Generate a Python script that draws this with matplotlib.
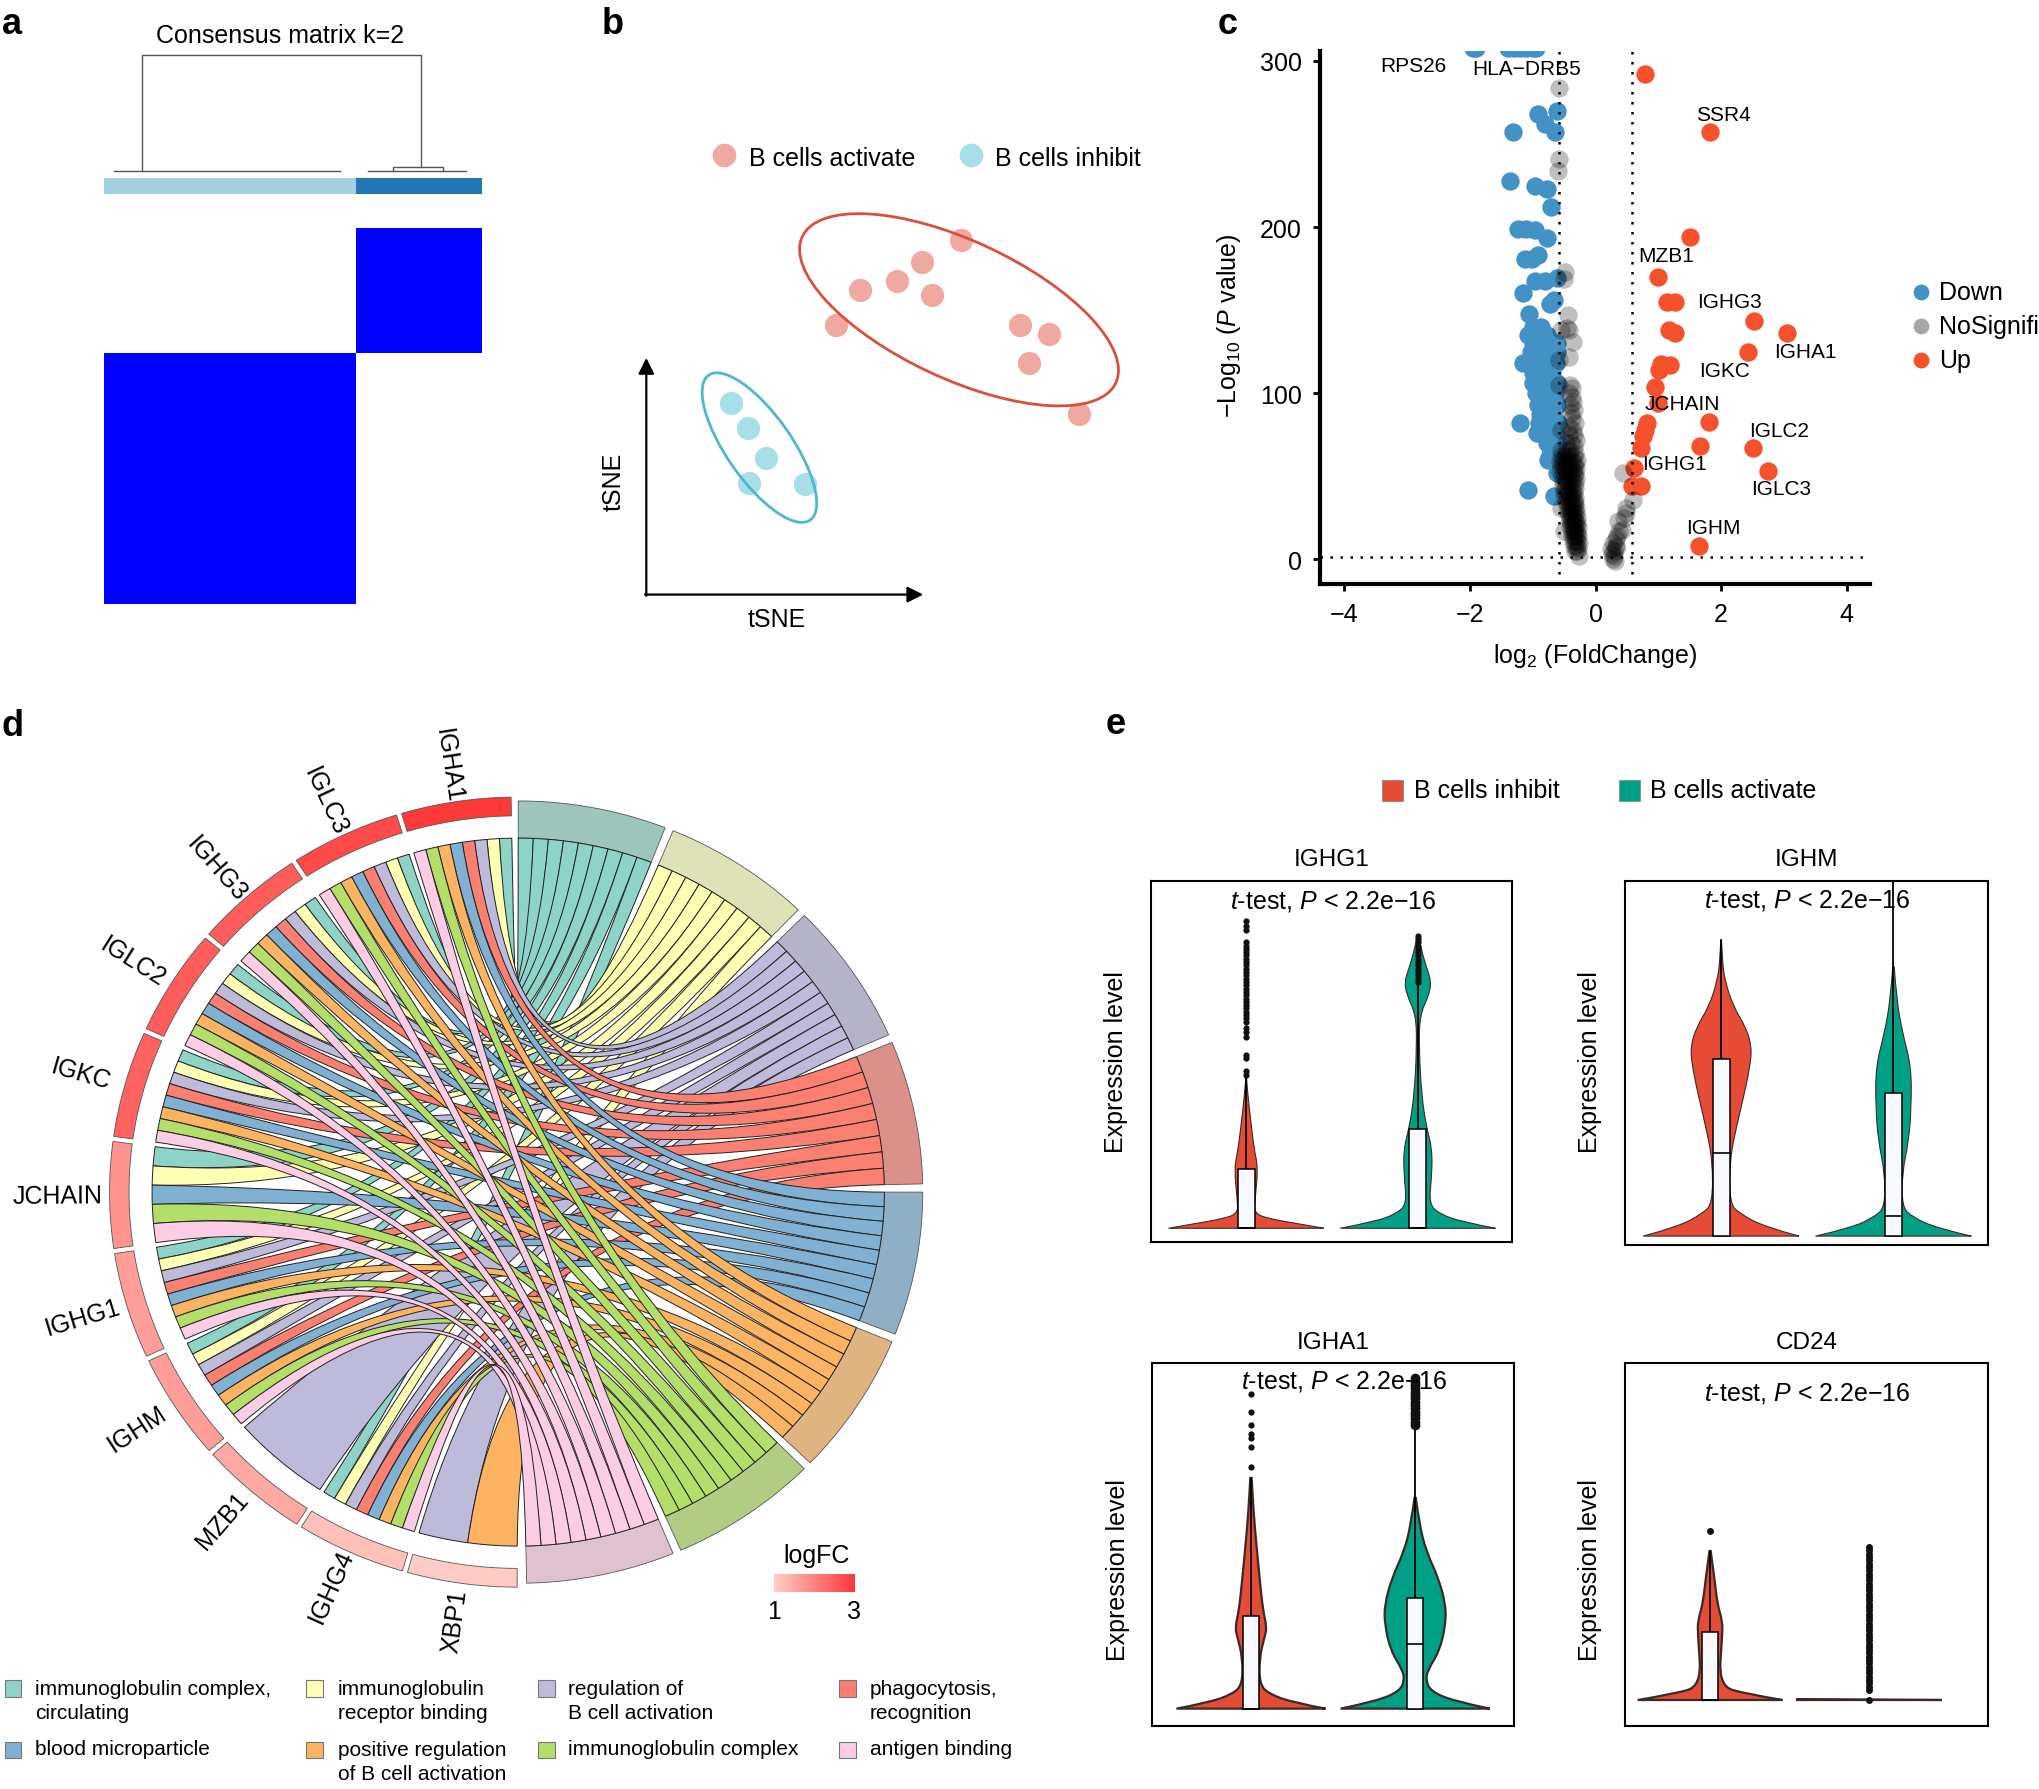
import numpy as np
import matplotlib
matplotlib.use("Agg")
import matplotlib.pyplot as plt
from matplotlib.colors import LinearSegmentedColormap, ListedColormap, Normalize
from matplotlib.patches import Ellipse, PathPatch, Rectangle
from matplotlib.path import Path

plt.rcParams["font.family"] = ["Liberation Sans", "DejaVu Sans"]
plt.rcParams["mathtext.fontset"] = "custom"
plt.rcParams["mathtext.rm"] = "Liberation Sans"
plt.rcParams["mathtext.it"] = "Liberation Sans:italic"
plt.rcParams["mathtext.default"] = "regular"

W, H = 2039, 1790
S = W / 1568  # layout below was measured on a 1568 wide view

# panel a
CONSENSUS = [[0, 0, 1], [1, 1, 0], [1, 1, 0]]
CLUSTER_BAR = [[0, 0, 1]]
DENDRO_X = [[0.30, 0.30, 2.52, 2.52], [0.08, 1.88], [2.10, 2.88], [2.30, 2.30, 2.70, 2.70]]
DENDRO_Y = [[0.02, 1.0, 1.0, 0.05], [0.02, 0.02], [0.02, 0.02], [0.02, 0.05, 0.05, 0.02]]

# panel b
ACT_X = [24.2, 21.2, 19.3, 16.4, 22.0, 14.6, 28.7, 31.0, 29.4, 33.3]
ACT_Y = [27.3, 25.6, 24.1, 23.4, 23.0, 20.7, 20.7, 20.0, 17.8, 13.9]
INH_X = [6.5, 7.8, 9.2, 7.9, 12.2]
INH_Y = [14.7, 12.8, 10.5, 8.6, 8.5]

# panel c
UP_X = [0.785, 1.82, 1.5, 0.99, 1.14, 1.27, 2.52, 3.05, 1.17, 1.27, 2.43, 1.04, 1.19, 1.01, 0.95, 0.99,
        1.80, 0.82, 0.78, 0.75, 0.72, 1.67, 2.50, 2.75, 0.62, 0.58, 0.72, 1.65]
UP_Y = [292, 257, 194, 170, 155, 155, 143.6, 136, 138, 136, 125, 117.5, 117, 114, 104, 94,
        83, 82, 78, 74, 67, 68, 67, 53, 55, 44, 44, 8]
DOWN_X = [-1.95, -1.9, -1.4, -1.3, -1.2, -1.1, -1.0, -0.95,
          -0.62, -0.92, -0.8, -0.64, -1.32, -1.37, -0.97, -0.77, -0.71, -1.24, -1.1, -0.97, -0.78,
          -0.91, -1.01, -1.12, -0.62, -0.8, -0.97, -1.15, -0.66, -0.73, -1.06,
          -1.0, -0.87, -1.07, -0.95, -0.85, -0.78, -1.0, -0.9, -0.8, -0.7, -0.62,
          -1.03, -0.92, -0.82, -0.72, -0.62, -1.15, -1.03, -0.93, -0.83, -0.73, -0.63,
          -1.0, -0.9, -0.8, -0.7, -1.0, -0.9, -0.8, -0.7, -0.62,
          -0.95, -0.85, -0.75, -0.65, -0.92, -0.82, -0.72, -0.62, -0.88, -0.78, -0.68,
          -1.21, -0.9, -0.8, -0.7, -0.6, -0.93, -0.83, -0.73, -0.63,
          -0.78, -0.68, -0.6, -0.72, -0.62, -0.76, -0.62, -0.6, -1.07, -0.66]
DOWN_Y = [308, 308, 308, 308, 308, 308, 308, 308,
          270, 268, 262, 257, 257, 228, 225, 223, 212, 199, 198.6, 198, 193.5,
          183, 181, 180.6, 169.5, 167.6, 167.6, 160.5, 156, 153.5, 147.5,
          140, 140, 135, 135, 135, 135, 130, 130, 130, 130, 130,
          125, 125, 125, 125, 125, 118, 118, 118, 118, 118, 118,
          112, 112, 112, 112, 106, 106, 106, 106, 106,
          100, 100, 100, 100, 93, 93, 93, 93, 87, 87, 87,
          82, 82, 82, 82, 82, 76, 76, 76, 76,
          70, 70, 70, 63, 63, 60, 52, 52, 42, 38]
NS_X = [-0.585, -0.585, -0.59, -0.49, -0.506, -0.445, -0.46, -0.43, -0.36, -0.58, -0.43, -0.55,
        -0.58, -0.40, -0.37, -0.42, -0.38, -0.36, -0.41, -0.34, -0.39, -0.37, -0.33, -0.43, -0.36,
        -0.55, -0.42, -0.35, -0.31, -0.47, -0.39, -0.34, -0.55, -0.46, -0.40, -0.33,
        -0.55, -0.50, -0.45, -0.40, -0.35, -0.30, -0.57, -0.52, -0.47, -0.42, -0.37, -0.32,
        -0.55, -0.50, -0.45, -0.40, -0.35, -0.31, -0.56, -0.51, -0.46, -0.41, -0.36, -0.32,
        -0.54, -0.49, -0.44, -0.39, -0.34, -0.31, -0.52, -0.47, -0.42, -0.37, -0.33,
        -0.52, -0.47, -0.42, -0.37, -0.33, -0.50, -0.46, -0.42, -0.38, -0.34,
        -0.50, -0.45, -0.41, -0.37, -0.33, -0.55, -0.47, -0.43, -0.39, -0.35, -0.32,
        -0.45, -0.42, -0.38, -0.35, -0.31, -0.44, -0.40, -0.37, -0.34, -0.31,
        -0.43, -0.40, -0.37, -0.34, -0.30, -0.41, -0.38, -0.35, -0.32, -0.29,
        -0.40, -0.37, -0.34, -0.31, -0.28, -0.50, -0.38, -0.35, -0.32, -0.29, -0.37, -0.34, -0.31, -0.28,
        -0.36, -0.33, -0.30, -0.27, -0.34, -0.31, -0.28, -0.32, -0.29, -0.27,
        0.44, 0.49, 0.46, 0.36, 0.60, 0.48, 0.38, 0.33, 0.28, 0.32, 0.25, 0.29, 0.34, 0.26, 0.30, 0.33, 0.28,
        0.31, 0.42]
NS_Y = [284, 241, 234, 173, 169, 147, 139, 138, 131, 120, 122, 138,
        105, 105, 103, 100, 98, 95, 93, 90, 88, 85, 82, 80, 78,
        78, 75, 75, 72, 70, 70, 68, 66, 65, 65, 64,
        62, 62, 62, 62, 62, 60, 59, 59, 59, 59, 59, 58,
        56, 56, 56, 56, 56, 55, 53, 53, 53, 53, 53, 52,
        50, 50, 50, 50, 50, 49, 47, 47, 47, 47, 46,
        44, 44, 44, 44, 43, 41, 41, 41, 41, 40,
        38, 38, 38, 38, 37, 31, 35, 35, 35, 35, 34,
        32, 32, 32, 32, 31, 29, 29, 29, 29, 28,
        26, 26, 26, 26, 25, 23, 23, 23, 23, 22,
        20, 20, 20, 20, 19, 17, 17, 17, 17, 16, 14, 14, 14, 14,
        11, 11, 11, 10, 8, 8, 7, 5, 5, 2,
        52, 31, 25, 23, 36, 28, 17, 12, 10, 8, 6, 5, 14, 3, 2, 7, 0,
        -1, 18]
VOLC_LABELS = ["RPS26", "HLA\u2212DRB5", "SSR4", "MZB1", "IGHG3", "IGKC", "IGHA1", "JCHAIN", "IGLC2", "IGHG1", "IGLC3", "IGHM"]
VOLC_LABEL_X = [-2.9, -1.1, 2.03, 1.12, 2.13, 2.05, 3.34, 1.38, 2.93, 1.26, 2.95, 1.87]
VOLC_LABEL_Y = [297, 295.5, 267.6, 183, 155, 114, 125, 94, 77.3, 57.7, 42.9, 19.4]

# panel d
GENES = ["IGHA1", "IGLC3", "IGHG3", "IGLC2", "IGKC", "JCHAIN", "IGHG1", "IGHM", "MZB1", "IGHG4", "XBP1"]
LOGFC = [3.05, 2.75, 2.5, 2.5, 2.43, 1.8, 1.67, 1.65, 1.5, 1.2, 1.05]
TERMS = ["immunoglobulin complex,\ncirculating", "immunoglobulin\nreceptor binding", "regulation of\nB cell activation",
         "phagocytosis,\nrecognition", "blood microparticle", "positive regulation\nof B cell activation",
         "immunoglobulin complex", "antigen binding"]
RIBBON_COLORS = ["#8DD3C7", "#FFFFB3", "#BEBADA", "#FB8072", "#80B1D3", "#FDB462", "#B3DE69", "#FCCDE5"]
SECTOR_COLORS = ["#9CC5BC", "#DFE2B6", "#B5B3C8", "#DC908A", "#8FAFC4", "#E0B481", "#B3CC84", "#DFC2CF"]
MEMBERSHIP = [
    [1, 1, 1, 1, 1, 1, 1, 1],
    [1, 1, 1, 1, 1, 1, 1, 1],
    [1, 1, 1, 1, 1, 1, 1, 1],
    [1, 1, 1, 1, 1, 1, 1, 1],
    [1, 1, 1, 1, 1, 1, 1, 1],
    [1, 1, 0, 0, 1, 0, 1, 1],
    [1, 1, 1, 1, 1, 1, 1, 1],
    [1, 1, 1, 1, 1, 1, 1, 1],
    [0, 0, 1, 0, 0, 0, 0, 0],
    [1, 1, 1, 1, 1, 1, 1, 1],
    [0, 0, 1, 0, 0, 1, 0, 0],
]

# panel e, one violin per group: heights, half widths, box and outliers
PANEL_NAMES = ["IGHG1", "IGHM", "IGHA1", "CD24"]
VIOLIN_Y = {
    "IGHG1": ([0, .07, .14, .22, .4, .9, 1.2, 1.6, 2.0, 2.27],
              [0, .1, .22, .37, .82, 1.22, 1.52, 2.02, 2.72, 3.22, 3.52, 3.72, 3.92, 4.22, 4.42]),
    "IGHM": ([0, .14, .34, .49, 1.14, 1.64, 2.14, 2.54, 2.84, 3.14, 3.44, 3.84, 4.14, 4.44],
             [0, .12, .29, .44, .94, 1.44, 1.94, 2.54, 3.04, 3.54, 4.04]),
    "IGHA1": ([0, .09, .22, .37, .77, 1.07, 1.22, 1.47, 1.87, 2.47, 2.97, 3.47],
              [0, .12, .27, .42, .57, .87, 1.27, 1.57, 1.97, 2.37, 2.77, 3.17]),
    "CD24": ([0, .09, .21, .99, 1.19, 1.44, 1.84, 2.24], [0, .012]),
}
VIOLIN_W = {
    "IGHG1": ([.452, .30, .14, .05, .05, .07, .046, .028, .01, .002],
              [.452, .25, .125, .064, .082, .082, .05, .021, .007, .011, .064, .078, .053, .018, .004]),
    "IGHM": ([.452, .25, .107, .05, .05, .089, .135, .167, .178, .142, .071, .021, .007, .002],
             [.452, .25, .107, .05, .05, .089, .103, .103, .053, .018, .004]),
    "IGHA1": ([.454, .26, .11, .052, .052, .082, .097, .074, .056, .033, .015, .004],
              [.454, .223, .093, .067, .074, .149, .186, .186, .141, .067, .026, .004]),
    "CD24": ([.454, .23, .054, .077, .077, .046, .027, .004], [.454, .454]),
}
BOX_Q1 = {"IGHG1": (0, 0), "IGHM": (0, 0), "IGHA1": (0, 0), "CD24": (0, 0)}
BOX_MED = {"IGHG1": (0, 0), "IGHM": (1.25, .3), "IGHA1": (0, .97), "CD24": (0, 0)}
BOX_Q3 = {"IGHG1": (.9, 1.5), "IGHM": (2.65, 2.15), "IGHA1": (1.4, 1.67), "CD24": (1.02, 0)}
WHISKER = {"IGHG1": (2.27, 3.72), "IGHM": (4.44, 5.4), "IGHA1": (3.47, 4.27), "CD24": (2.24, 0)}
OUTLIERS = {
    "IGHG1": ([2.32, 2.37, 2.57, 2.62, 2.89, 2.97, 3.03, 3.12, 3.17, 3.22, 3.27, 3.32, 3.37, 3.42, 3.47, 3.52, 3.57,
               3.62, 3.67, 3.72, 3.77, 3.82, 3.87, 3.92, 3.97, 4.02, 4.07, 4.12, 4.17, 4.22, 4.27, 4.32, 4.5, 4.57, 4.64],
              [3.72, 3.77, 3.82, 3.87, 3.92, 3.97, 4.02, 4.07, 4.12, 4.17, 4.22, 4.27, 4.32, 4.37, 4.42]),
    "IGHM": ([], []),
    "IGHA1": ([3.64, 3.94, 4.07, 4.14, 4.27, 4.47, 4.74],
              [4.27, 4.32, 4.37, 4.42, 4.47, 4.52, 4.57, 4.62, 4.67, 4.72, 4.77, 4.82, 4.87, 4.92, 4.97]),
    "CD24": ([2.54],
             [0, .15, .2, .25, .3, .35, .4, .45, .5, .55, .6, .65, .7, .75, .8, .85, .9, .95, 1.0, 1.05, 1.1, 1.15,
              1.2, 1.25, 1.3, 1.35, 1.4, 1.45, 1.5, 1.55, 1.6, 1.65, 1.7, 1.75, 1.8, 1.85, 1.9, 1.95, 2.0, 2.05,
              2.1, 2.15, 2.2, 2.25, 2.3]),
}
VIOLIN_COLORS = ["#E64B35", "#00A087"]


def ax_box(x0, y0, x1, y1):
    # box in the 1568 wide layout, y counted from the top
    return fig.add_axes([x0 * S / W, 1 - y1 * S / H, (x1 - x0) * S / W, (y1 - y0) * S / H])


def violin_path(pos, ys, ws):
    # smooth outline: the read values act as curve control points
    right = [(pos + w, y) for y, w in zip(ys, ws)]
    left = [(pos - w, y) for y, w in zip(ys, ws)][::-1]
    verts = [right[0]]
    codes = [Path.MOVETO]
    for side in (right, left):
        if side is left:
            verts.append(left[0])
            codes.append(Path.LINETO)
        for j in range(1, len(side) - 1):
            p, q = side[j], side[j + 1]
            end = q if j == len(side) - 2 else ((p[0] + q[0]) / 2, (p[1] + q[1]) / 2)
            verts += [p, end]
            codes += [Path.CURVE3, Path.CURVE3]
    verts += [left[-1], right[0]]
    codes += [Path.LINETO, Path.LINETO]
    return Path(verts, codes)


fig = plt.figure(figsize=(W / 100, H / 100), dpi=100)

ov = fig.add_axes([0, 0, 1, 1], zorder=5)
ov.set_xlim(0, 1568)
ov.set_ylim(H / S - 1.5, -1.5)
ov.axis("off")
ov.patch.set_alpha(0)

for letter, lx, ly in [("a", 9, 17), ("b", 471, 17), ("c", 944, 17), ("d", 10, 557), ("e", 858, 556)]:
    ov.text(lx, ly, letter, fontsize=26, fontweight="bold", ha="center", va="center")

# a
ax = ax_box(80, 176, 370, 465)
ax.imshow(CONSENSUS, cmap=ListedColormap(["white", "#0000FF"]), extent=(0, 3, 3, 0), aspect="auto")
ax.axis("off")
ax = ax_box(80, 138, 370, 150)
ax.imshow(CLUSTER_BAR, cmap=ListedColormap(["#A6CEE3", "#1F78B4"]), extent=(0, 3, 1, 0), aspect="auto")
ax.axis("off")
ax = ax_box(80, 43, 370, 134)
for xs, ys in zip(DENDRO_X, DENDRO_Y):
    ax.plot(xs, ys, color="#555555", lw=1, clip_on=False)
ax.set_xlim(0, 3)
ax.set_ylim(0, 1)
ax.axis("off")
ov.text(215, 26, "Consensus matrix k=2", fontsize=18, ha="center", va="center")

# b
ax = ax_box(480, 100, 880, 458)
ax.set_xlim(-1.7, 38.3)
ax.set_ylim(0, 35.8)
ax.axis("off")
ax.scatter(ACT_X, ACT_Y, s=280, color="#F0A9A0", lw=0, clip_on=False)
ax.scatter(INH_X, INH_Y, s=280, color="#A8DEE8", lw=0, clip_on=False)
ax.add_patch(Ellipse((24.05, 21.9), 26.6, 10.6, angle=-25, fill=False, ec="#D9503C", lw=2))
ax.add_patch(Ellipse((8.7, 11.3), 13.6, 5.0, angle=-55, fill=False, ec="#4FB7CB", lw=2))
ax.annotate("", xy=(21.3, 0), xytext=(-0.1, 0), arrowprops=dict(arrowstyle="-|>", color="black", lw=1.6, mutation_scale=24, shrinkA=0, shrinkB=0), annotation_clip=False)
ax.annotate("", xy=(0, 18.2), xytext=(0, -0.1), arrowprops=dict(arrowstyle="-|>", color="black", lw=1.6, mutation_scale=24, shrinkA=0, shrinkB=0), annotation_clip=False)
ov.text(597, 475, "tSNE", fontsize=18, ha="center", va="center")
ov.text(472, 369, "tSNE", fontsize=18, ha="center", va="center", rotation=90)
ax.scatter([6.0], [33.8], s=290, color="#F0A9A0", lw=0, clip_on=False)
ax.scatter([25.0], [33.8], s=290, color="#A8DEE8", lw=0, clip_on=False)
ov.text(576, 121, "B cells activate", fontsize=18, va="center")
ov.text(765, 121, "B cells inhibit", fontsize=18, va="center")

# c
ax = ax_box(1015, 40, 1438, 450)
ax.scatter(DOWN_X, DOWN_Y, s=175, color="#4292C6", lw=0, zorder=2)
ax.scatter(UP_X, UP_Y, s=175, color="#F4512C", lw=0, zorder=3)
ax.scatter(NS_X, NS_Y, s=175, color="black", alpha=0.25, lw=0, zorder=4)
ax.axvline(-0.58, color="black", ls=(0, (1, 3)), lw=1.8, zorder=5)
ax.axvline(0.58, color="black", ls=(0, (1, 3)), lw=1.8, zorder=5)
ax.axhline(1.6, color="black", ls=(0, (1, 3)), lw=1.8, zorder=5)
ax.set_xlim(-4.39, 4.37)
ax.set_ylim(-14.9, 306)
ax.set_xticks([-4, -2, 0, 2, 4], ["\u22124", "\u22122", "0", "2", "4"])
ax.set_yticks([0, 100, 200, 300])
ax.tick_params(labelsize=18, width=2, length=5, pad=8)
for side in ["top", "right"]:
    ax.spines[side].set_visible(False)
for side in ["left", "bottom"]:
    ax.spines[side].set_linewidth(3)
for name, lx, ly in zip(VOLC_LABELS, VOLC_LABEL_X, VOLC_LABEL_Y):
    ax.text(lx, ly, name, fontsize=15, ha="center", va="center", zorder=6, clip_on=False)
ov.text(1227, 503, r"log$_{2}$ (FoldChange)", fontsize=18, ha="center", va="center")
ov.text(945, 249, r"$-$Log$_{10}$ ($\mathit{P}$ value)", fontsize=18, ha="center", va="center", rotation=90)
for label, color, ly in [("Down", "#4292C6", 224), ("NoSignifi", "#A6A6A6", 250), ("Up", "#F4512C", 276)]:
    ov.scatter([1477], [ly], s=130, color=color, lw=0)
    ov.text(1491, ly, label, fontsize=18, va="center")

# d, angles in degrees from the top, genes go left and terms go right
ax = ax_box(398.5 - 392, 917.5 - 379, 398.5 + 392, 917.5 + 379)
ax.set_xlim(-1.26, 1.26)
ax.set_ylim(-1.26, 1.26)
ax.axis("off")
cmap_fc = LinearSegmentedColormap.from_list("fc", ["#FFCFC8", "#FF3838"])
norm_fc = Normalize(1, 3)
R_IN = 0.905


def pt(deg, r):
    a = np.radians(deg)
    return (r * np.sin(a), r * np.cos(a))


def sector(a0, a1, r0, r1, color):
    arc = np.linspace(a0, a1, 30)
    verts = [pt(a, r1) for a in arc] + [pt(a, r0) for a in arc[::-1]]
    ax.fill([v[0] for v in verts], [v[1] for v in verts], facecolor=color, edgecolor="#555555", lw=0.6)


n_genes = len(GENES)
n_terms = len(TERMS)
gene_pitch = 179.6 / n_genes
term_pitch = 22.5
gene_slots = []
for g in range(n_genes):
    a0 = -(1.0 + g * gene_pitch)
    a1 = a0 - (gene_pitch - 0.75)
    sector(a0, a1, 0.962, 1.01, cmap_fc(norm_fc(LOGFC[g])))
    mid = (a0 + a1) / 2
    a = np.radians(mid)
    rx = 1.14 if GENES[g] == "JCHAIN" else 1.125
    ax.text(rx * np.sin(a), 1.105 * np.cos(a), GENES[g], fontsize=18, ha="center", va="center", rotation=-mid - 90, rotation_mode="anchor")
    terms_here = [t for t in range(n_terms) if MEMBERSHIP[g][t]]
    step = (a1 - a0) / len(terms_here)
    gene_slots.append({t: (a0 + i * step, a0 + (i + 1) * step) for i, t in enumerate(terms_here)})

for t in range(n_terms):
    a0 = t * term_pitch
    a1 = a0 + term_pitch - 1.2
    sector(a0, a1, R_IN, 1.0, SECTOR_COLORS[t])
    genes_here = [g for g in range(n_genes) if MEMBERSHIP[g][t]]
    step = (a1 - a0) / len(genes_here)
    for i, g in enumerate(genes_here):
        b0, b1 = a0 + i * step, a0 + (i + 1) * step
        g0, g1 = gene_slots[g][t]
        arc_g = [pt(a, R_IN) for a in np.linspace(g0, g1, 8)]
        arc_t = [pt(a, R_IN) for a in np.linspace(b1, b0, 8)]
        verts = arc_g + [(0, 0), arc_t[0]] + arc_t[1:] + [(0, 0), arc_g[0]]
        codes = [Path.MOVETO] + [Path.LINETO] * 7 + [Path.CURVE3, Path.CURVE3] + [Path.LINETO] * 7 + [Path.CURVE3, Path.CURVE3]
        ax.add_patch(PathPatch(Path(verts, codes), facecolor=RIBBON_COLORS[t], edgecolor="#222222", lw=0.7, zorder=2 + t * 0.1))

ax = ax_box(595, 1211, 657, 1225)
ax.imshow(np.linspace(1, 3, 200).reshape(1, -1), cmap=cmap_fc, norm=norm_fc, aspect="auto")
ax.axis("off")
ov.text(628, 1195, "logFC", fontsize=18, ha="center", va="center")
ov.text(595, 1238, "1", fontsize=18, ha="center", va="center")
ov.text(657, 1238, "3", fontsize=18, ha="center", va="center")

legend_pos = [(10, 1308, 27), (242, 1308, 260), (420, 1308, 437), (652, 1308, 669),
              (10, 1345, 27), (242, 1355, 260), (420, 1345, 437), (652, 1345, 669)]
for t, (bx, by, tx) in enumerate(legend_pos):
    sy = by - 10 if "\n" in TERMS[t] else by
    ov.add_patch(Rectangle((bx - 6.5, sy - 6.5), 13, 13, facecolor=RIBBON_COLORS[t], edgecolor="#777777", lw=0.8))
    ov.text(tx, by - 1, TERMS[t], fontsize=15, va="center", linespacing=1.3)

# e
ov.add_patch(Rectangle((1063, 599), 16, 16, facecolor=VIOLIN_COLORS[0], edgecolor="#888888", lw=0.6))
ov.add_patch(Rectangle((1245, 599), 16, 16, facecolor=VIOLIN_COLORS[1], edgecolor="#888888", lw=0.6))
ov.text(1087, 607, "B cells inhibit", fontsize=18, va="center")
ov.text(1269, 607, "B cells activate", fontsize=18, va="center")

boxes = [(885, 678, 1163, 956), (1250, 678, 1529, 958), (886, 1049, 1164, 1328), (1250, 1049, 1529, 1328)]
xlims = [(0.445, 2.55), (0.445, 2.55), (0.398, 2.60), (0.469, 2.746)]
ylims = [(-0.21, 5.25), (-0.13, 5.33), (-0.26, 5.2), (-0.39, 5.07)]
edge_lw = [0.8, 0.8, 1.6, 1.6]
dot_size = [(4.5, 4.5), (4.5, 4.5), (4.5, 7), (5, 5)]
text_y = [692, 691, 1061, 1070]
text_x = [1025, 1390, 1034, 1390]
label_x = [858, 1223, 860, 1223]
label_y = [815, 815, 1206, 1206]
for k, name in enumerate(PANEL_NAMES):
    ax = ax_box(*boxes[k])
    for i in range(2):
        ys = VIOLIN_Y[name][i]
        ws = VIOLIN_W[name][i]
        pos = i + 1
        ax.add_patch(PathPatch(violin_path(pos, ys, ws), facecolor=VIOLIN_COLORS[i], edgecolor="#3a2a25", lw=edge_lw[k], zorder=2))
        ax.plot([pos, pos], [BOX_Q3[name][i], WHISKER[name][i]], color="black", lw=1.3, zorder=3)
        if BOX_Q3[name][i] > 0:
            ax.bar(pos, BOX_Q3[name][i] - BOX_Q1[name][i], bottom=BOX_Q1[name][i], width=0.1, color="#F8F8FF", edgecolor="black", lw=1.1, zorder=4)
            ax.plot([pos - 0.05, pos + 0.05], [BOX_MED[name][i]] * 2, color="black", lw=1.2, zorder=5)
        out = OUTLIERS[name][i]
        ax.plot([pos] * len(out), out, "o", color="#111111", ms=dot_size[k][i], mew=0, zorder=5)
    ax.set_xlim(*xlims[k])
    ax.set_ylim(*ylims[k])
    ax.set_xticks([])
    ax.set_yticks([])
    for sp in ax.spines.values():
        sp.set_linewidth(1.5)
    ov.text((boxes[k][0] + boxes[k][2]) / 2, boxes[k][1] - 18, name, fontsize=17.5, ha="center", va="center")
    ov.text(text_x[k], text_y[k], r"$\mathit{t}$-test, $\mathit{P}$ < 2.2e$-$16", fontsize=18, ha="center", va="center")
    ov.text(label_x[k], label_y[k], "Expression level", fontsize=18, ha="center", va="center", rotation=90)

fig.savefig("out.png", dpi=100)
